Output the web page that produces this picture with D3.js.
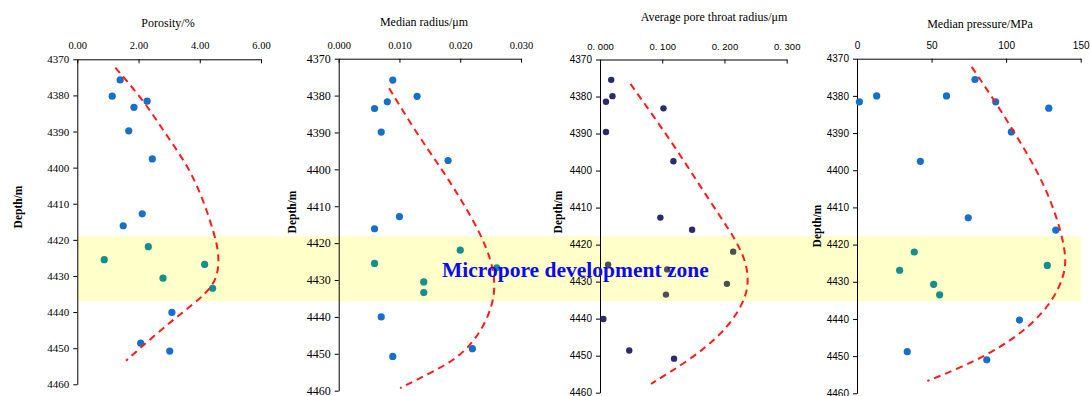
<!DOCTYPE html>
<html><head><meta charset="utf-8">
<script src="https://cdn.jsdelivr.net/npm/d3@7/dist/d3.min.js"></script>
<style>body{margin:0;background:#fff}svg{display:block}</style>
</head><body>
<svg id="c" width="1091" height="396"></svg>
<script>
// ---------- DATA ----------
const depthTicks = [4370,4380,4390,4400,4410,4420,4430,4440,4450,4460];
const zoneTop = 4419, zoneBottom = 4437;
const zoneLabel = "Micropore development zone";

const porosityDepth = [4375.7,4380.2,4381.6,4383.3,4389.8,4397.6,4412.8,4416.1,4421.9,4425.5,4426.8,4430.6,4433.4,4440.1,4448.6,4450.8];
const porosity      = [1.40,1.14,2.28,1.85,1.68,2.45,2.12,1.50,2.32,0.88,4.16,2.80,4.42,3.09,2.07,3.02];
const porosityTrendDepth = [4372.3,4381.3,4390.5,4399.7,4409.0,4418.2,4423.7,4430.2,4434.8,4440.3,4445.9,4453.5];
const porosityTrend      = [1.24,2.16,2.87,3.63,4.12,4.47,4.63,4.60,4.23,3.41,2.59,1.59];
const porosityTicks = [0,2,4,6];

const radiusDepth = [4375.8,4380.2,4381.7,4383.5,4389.9,4397.6,4412.8,4416.1,4421.9,4425.5,4426.7,4430.5,4433.4,4440.0,4448.6,4450.7];
const radius      = [0.0089,0.0129,0.0080,0.0059,0.0070,0.0180,0.0100,0.0059,0.0200,0.0059,0.0260,0.0140,0.0140,0.0070,0.0220,0.0089];
const radiusTrendDepth = [4378.0,4390.2,4399.3,4408.3,4417.3,4424.6,4430.9,4437.2,4444.4,4450.8,4455.3,4459.3];
const radiusTrend      = [0.0083,0.0128,0.0167,0.0202,0.0233,0.0251,0.0258,0.0253,0.0233,0.0200,0.0150,0.0101];
const radiusTicks = [0,0.01,0.02,0.03];

const throatDepth = [4375.5,4379.9,4381.4,4383.2,4389.6,4397.5,4412.7,4416.0,4421.9,4425.4,4426.7,4430.6,4433.5,4440.1,4448.6,4450.8];
const throat      = [0.018,0.020,0.0096,0.102,0.0096,0.118,0.097,0.148,0.214,0.013,0.108,0.204,0.106,0.0054,0.047,0.119];
const throatTrendDepth = [4376.6,4385.3,4394.3,4403.4,4412.4,4418.7,4425.0,4431.3,4436.7,4443.9,4451.1,4457.6];
const throatTrend      = [0.049,0.086,0.123,0.158,0.193,0.218,0.236,0.239,0.228,0.198,0.145,0.082];
const throatTicks = [0,0.1,0.2,0.3];

const pressureDepth = [4375.6,4380.0,4380.0,4381.6,4381.6,4383.3,4389.7,4397.6,4412.8,4416.1,4422.0,4426.9,4425.6,4430.7,4433.5,4440.3,4448.8,4451.0];
const pressure      = [79.1,13.2,60.0,1.6,93.0,128.6,103.5,42.5,74.6,133.3,38.4,28.6,127.6,51.4,55.4,108.9,33.7,87.0];
const pressureTrendDepth = [4372.2,4381.1,4390.1,4399.1,4408.0,4417.0,4424.1,4428.6,4434.9,4442.1,4448.3,4452.8,4456.7];
const pressureTrend      = [76.9,91.9,106.0,119.4,129.9,137.3,140.4,138.6,131.7,116.0,93.7,71.3,47.2];
const pressureTicks = [0,50,100,150];

// ---------- LAYOUT ----------
const panels = [
  {title:"Porosity/%", depth:porosityDepth, vals:porosity, tD:porosityTrendDepth, tV:porosityTrend, ticks:porosityTicks,
   fmt:d3.format(".2f"), x0:77.3, x1:261, y0:59.3, y1:384.3, tx:168, ty:27, dx:18, dy:207,
   tickFont:"'Liberation Serif',serif", xfs:10.5, yfs:11, r:3.6, out:"#1670c8", inn:"#138f8e"},
  {title:"Median radius/μm", depth:radiusDepth, vals:radius, tD:radiusTrendDepth, tV:radiusTrend, ticks:radiusTicks,
   fmt:d3.format(".3f"), x0:338.7, x1:521, y0:58.7, y1:390.7, tx:424, ty:26, dx:292, dy:212,
   tickFont:"'Liberation Serif',serif", xfs:10.5, yfs:12, r:3.6, out:"#1670c8", inn:"#138f8e"},
  {title:"Average pore throat radius/μm", depth:throatDepth, vals:throat, tD:throatTrendDepth, tV:throatTrend, ticks:throatTicks,
   fmt:v=>d3.format(".3f")(v).replace(".",". "), x0:600, x1:786.7, y0:59.5, y1:392.7, tx:714, ty:21, dx:558, dy:212,
   tickFont:"'Liberation Sans',sans-serif", xfs:9.5, yfs:10, r:3.2, out:"#2a2a6c", inn:"#4d4f55"},
  {title:"Median pressure/MPa", depth:pressureDepth, vals:pressure, tD:pressureTrendDepth, tV:pressureTrend, ticks:pressureTicks,
   fmt:d3.format("d"), x0:857, x1:1080.7, y0:58.7, y1:393.3, tx:980, ty:28, dx:817, dy:226,
   tickFont:"'Liberation Sans',sans-serif", xfs:10, yfs:10, r:3.6, out:"#1670c8", inn:"#138f8e"}
];

const svg = d3.select("#c");
const depthDomain = [depthTicks[0], depthTicks[depthTicks.length-1]];
panels.forEach(p=>{
  p.x = d3.scaleLinear().domain([p.ticks[0], p.ticks[p.ticks.length-1]]).range([p.x0,p.x1]);
  p.y = d3.scaleLinear().domain(depthDomain).range([p.y0,p.y1]);
});

// zone band (behind everything)
const P1 = panels[0], P4 = panels[3];
svg.append("rect")
  .attr("x", P1.x0).attr("width", P4.x1 - P1.x0)
  .attr("y", P1.y(zoneTop)).attr("height", P1.y(zoneBottom)-P1.y(zoneTop))
  .attr("fill","#ffffc9");

const line = d3.line().curve(d3.curveBasis);

panels.forEach(p=>{
  const g = svg.append("g");
  // x axis (top)
  const xa = g.append("g").attr("transform",`translate(0,${p.y0})`)
    .call(d3.axisTop(p.x).tickValues(p.ticks).tickFormat(p.fmt).tickSizeInner(-4).tickSizeOuter(0).tickPadding(10));
  xa.selectAll("text").attr("font-family",p.tickFont).attr("font-size",p.xfs).attr("fill","#000");
  // y axis
  const ya = g.append("g").attr("transform",`translate(${p.x0},0)`)
    .call(d3.axisLeft(p.y).tickValues(depthTicks).tickFormat(d3.format("d")).tickSizeInner(4).tickSizeOuter(0).tickPadding(4));
  ya.selectAll("text").attr("font-family",p.tickFont).attr("font-size",p.yfs).attr("fill","#000");
  g.selectAll(".domain, .tick line").attr("stroke","#000");

  // title
  g.append("text").attr("x",p.tx).attr("y",p.ty).attr("text-anchor","middle")
    .attr("font-family","'Liberation Serif',serif").attr("font-size",12).text(p.title);
  // depth label
  g.append("text").attr("transform",`translate(${p.dx},${p.dy}) rotate(-90)`)
    .attr("text-anchor","middle").attr("dominant-baseline","central")
    .attr("font-family","'Liberation Serif',serif").attr("font-size",11.5).attr("font-weight","bold").text("Depth/m");

  // points
  g.selectAll("circle").data(p.vals.map((v,i)=>({v, d:p.depth[i]}))).join("circle")
    .attr("cx",d=>p.x(d.v)).attr("cy",d=>p.y(d.d)).attr("r",p.r)
    .attr("fill",d=> (d.d>=zoneTop && d.d<=zoneBottom) ? p.inn : p.out);

  // trend
  g.append("path").attr("d", line(p.tV.map((v,i)=>[p.x(v), p.y(p.tD[i])])))
    .attr("fill","none").attr("stroke","#ff1a1a").attr("stroke-width",2).attr("stroke-dasharray","7,5");
});

// zone label
svg.append("text").attr("x", panels[1].x1 - 79).attr("y", P1.y((zoneTop+zoneBottom)/2) + 8)
  .attr("font-family","'Liberation Serif',serif").attr("font-weight","bold").attr("font-size",21.5)
  .attr("fill","#0a0af0").text(zoneLabel);
</script>
</body></html>
